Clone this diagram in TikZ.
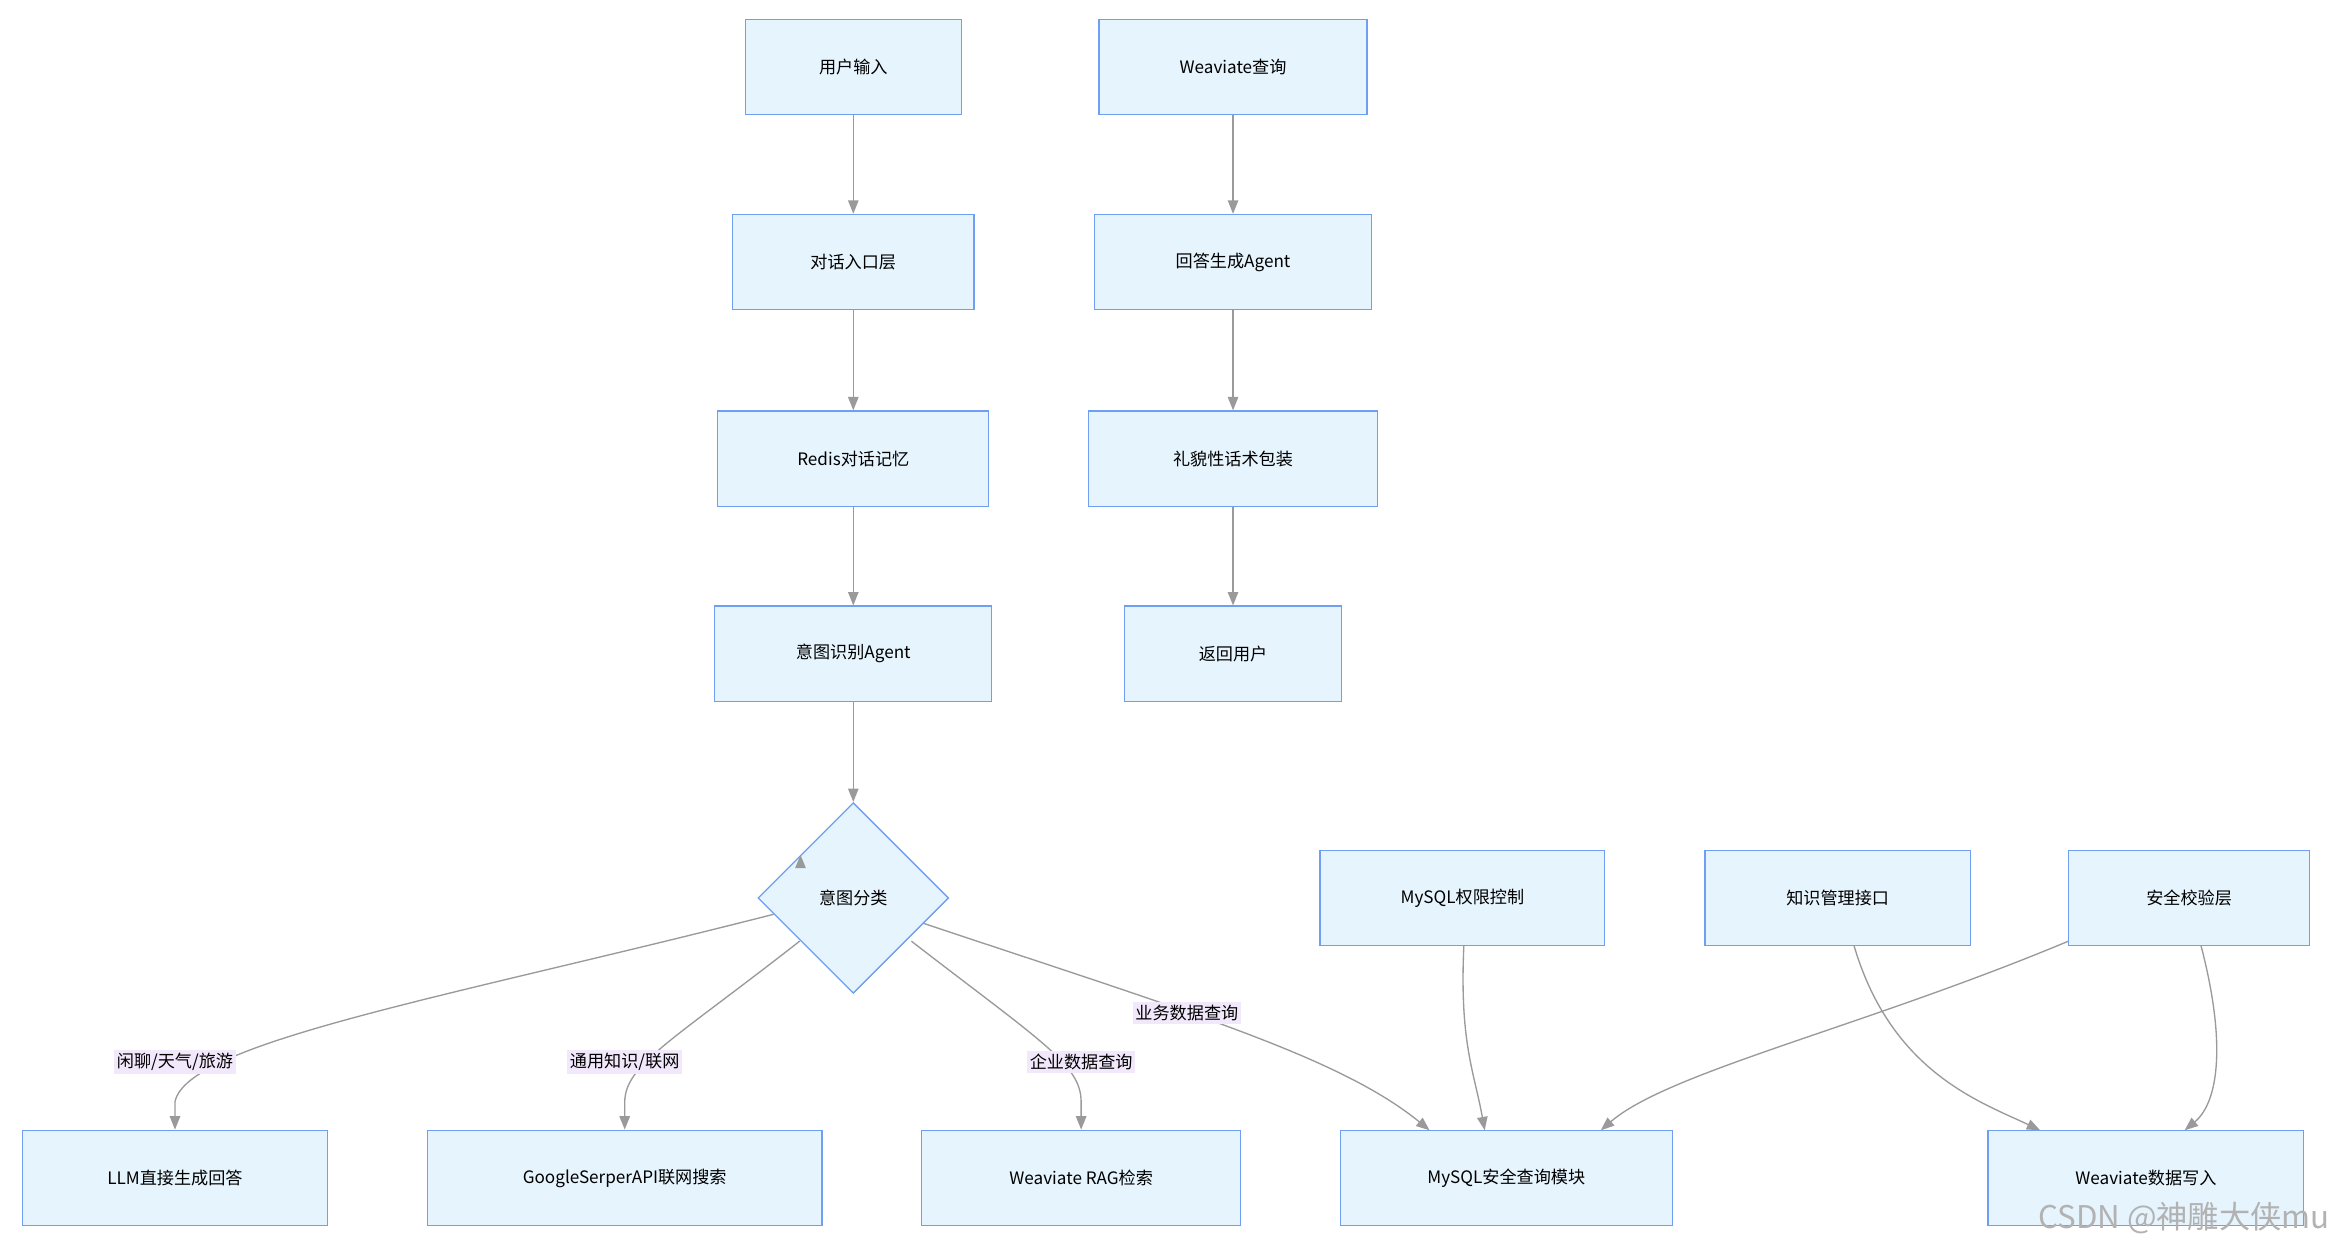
\documentclass[tikz,border=0pt]{standalone}
\usepackage{fontspec}
\setmainfont{Noto Sans CJK SC}
\usetikzlibrary{shapes.geometric,arrows.meta,calc}
\definecolor{bfill}{HTML}{E6F4FD}
\definecolor{bdraw}{HTML}{6F9FF2}
\definecolor{lfill}{HTML}{F2E8FB}
\definecolor{ecol}{HTML}{9A9A9A}
\tikzset{
 box/.style={draw=bdraw,fill=bfill,line width=0.9pt,minimum height=64pt,inner sep=0pt,font=\fontsize{11.5}{13}\selectfont},
 edge/.style={draw=ecol,line width=0.9pt,-{Triangle[length=9pt,width=7pt]}},
 lab/.style={fill=lfill,inner sep=2pt,font=\fontsize{11.5}{13}\selectfont}
}
\begin{document}
\begin{tikzpicture}[x=1pt,y=-1pt]
\useasboundingbox (0,0) rectangle (1568,844);
\fill[white] (0,0) rectangle (1568,844);
\node[box,minimum width=145pt] (ui) at (573,45) {用户输入};
\node[box,minimum width=180pt] (wq) at (828,45) {Weaviate查询};
\node[box,minimum width=162pt] (dl) at (573,176) {对话入口层};
\node[box,minimum width=186pt] (ag) at (828,176) {回答生成Agent};
\node[box,minimum width=182pt] (rd) at (573,308) {Redis对话记忆};
\node[box,minimum width=194pt] (lm) at (828,308) {礼貌性话术包装};
\node[box,minimum width=186pt] (ia) at (573,439) {意图识别Agent};
\node[box,minimum width=146pt] (fh) at (828,439) {返回用户};
\node[draw=bdraw,fill=bfill,line width=0.9pt,diamond,minimum width=128pt,minimum height=128pt,inner sep=0pt,font=\fontsize{11.5}{13}\selectfont] (dia) at (573,603) {意图分类};
\node[box,minimum width=191pt] (mq) at (982,603) {MySQL权限控制};
\node[box,minimum width=178pt] (zs) at (1234,603) {知识管理接口};
\node[box,minimum width=162pt] (aq) at (1470,603) {安全校验层};
\node[box,minimum width=205pt] (llm) at (117.5,791) {LLM直接生成回答};
\node[box,minimum width=265pt] (gs) at (419.5,791) {GoogleSerperAPI联网搜索};
\node[box,minimum width=214pt] (rag) at (726,791) {Weaviate RAG检索};
\node[box,minimum width=223pt] (ms) at (1011.5,791) {MySQL安全查询模块};
\node[box,minimum width=212pt] (ww) at (1441,791) {Weaviate数据写入};
\draw[edge] (ui) -- (dl); \draw[edge] (dl) -- (rd); \draw[edge] (rd) -- (ia); \draw[edge] (ia) -- (dia);
\draw[edge] (wq) -- (ag); \draw[edge] (ag) -- (lm); \draw[edge] (lm) -- (fh);
\draw[edge] ($(dia.west)!0.17!(dia.south)$) .. controls (300,670) and (125,700) .. (117.5,740) -- (llm.north);
\draw[edge] ($(dia.west)!0.45!(dia.north)$ |- 0,632) ++(0,0) ;
\draw[edge] (537,632) .. controls (450,700) and (420,715) .. (419.5,740) -- (gs.north);
\draw[edge] (612,632) .. controls (700,700) and (726,715) .. (726,740) -- (rag.north);
\draw[edge] (620,620) .. controls (800,680) and (900,710) .. (960,759);
\draw[edge] (983,635) .. controls (980,700) and (990,720) .. (997,759);
\draw[edge] (1389,632) .. controls (1250,690) and (1120,720) .. (1075,759);
\draw[edge] (1245,635) .. controls (1270,720) and (1330,740) .. (1370,759);
\draw[edge] (1478,635) .. controls (1495,700) and (1490,740) .. (1467,759);
\node[lab] (l1) at (117.5,713) {闲聊/天气/旅游};
\node[lab] (l2) at (419.5,713) {通用知识/联网};
\node[lab] (l3) at (726,713) {企业数据查询};
\node[lab] (l4) at (797,680) {业务数据查询};
\node[text=gray!60,font=\fontsize{21}{24}\selectfont,anchor=east] (wm) at (1568,818) {CSDN @神雕大侠mu};
\end{tikzpicture}
\end{document}
